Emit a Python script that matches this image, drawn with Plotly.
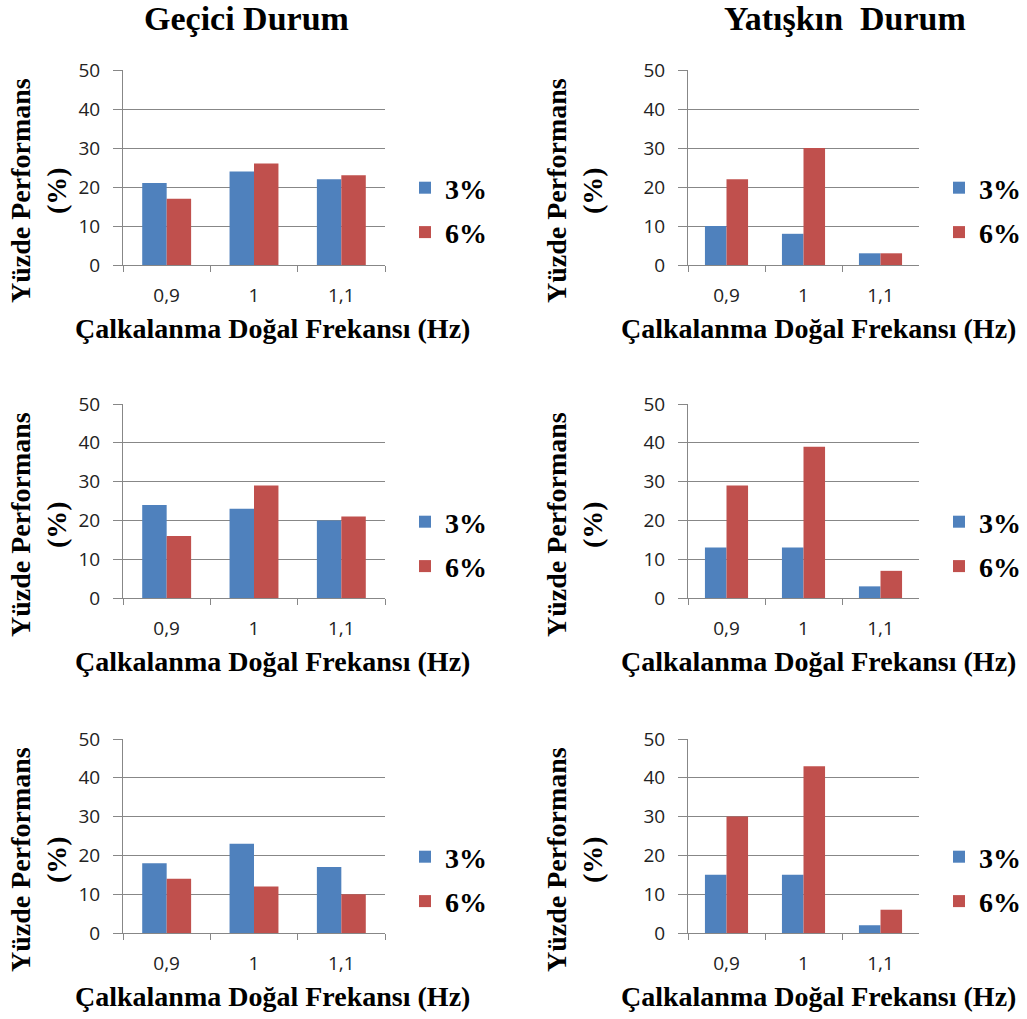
import plotly.graph_objects as go

# Natural sloshing frequency categories (Hz) and tick labels
categories = ["0,9", "1", "1,1"]
series_names = ["3%", "6%"]

# Percent performance, transient state (left column), rows top to bottom
gecici_3 = [[21, 24, 22], [24, 23, 20], [18, 23, 17]]
gecici_6 = [[17, 26, 23], [16, 29, 21], [14, 12, 10]]

# Percent performance, steady state (right column), rows top to bottom
yatiskin_3 = [[10, 8, 3], [13, 13, 3], [15, 15, 2]]
yatiskin_6 = [[22, 30, 3], [29, 39, 7], [30, 43, 6]]

y_ticks = [0, 10, 20, 30, 40, 50]
col_titles = ["Geçici Durum", "Yatışkın\u00a0\u00a0Durum"]
x_title = "Çalkalanma Doğal Frekansı (Hz)"
y_title = "Yüzde Performans<br>(%)"

BLUE = "#4F81BD"
RED = "#C0504D"
GRID = "#878787"
W, H = 1027, 1019

SERIF = "Liberation Serif, Times New Roman, serif"
SANS = "Open Sans"

# plot-area pixel boxes
col_x = [(123, 385), (688, 919)]
row_y = [(70, 265), (404, 598), (739, 933)]


def px_x(p):
    return p / W


def px_y(p):
    return 1 - p / H


fig = go.Figure()
layout = {}
annotations = []

for r in range(3):
    for c in range(2):
        i = r * 2 + c + 1
        sfx = "" if i == 1 else str(i)
        vals3 = gecici_3[r] if c == 0 else yatiskin_3[r]
        vals6 = gecici_6[r] if c == 0 else yatiskin_6[r]
        leg = "legend" if i == 1 else f"legend{i}"
        for name, vals, color in ((series_names[0], vals3, BLUE), (series_names[1], vals6, RED)):
            fig.add_trace(go.Bar(
                x=categories, y=vals, name=name,
                marker=dict(color=color, line=dict(width=0)),
                xaxis=f"x{sfx}", yaxis=f"y{sfx}",
                legend=leg, legendgroup=f"{i}-{name}",
            ))
        x0, x1 = col_x[c]
        y0, y1 = row_y[r]
        layout[f"xaxis{sfx}"] = dict(
            domain=[px_x(x0), px_x(x1)], anchor=f"y{sfx}", automargin=False,
            type="category", range=[-0.5, 2.5],
            showline=True, linecolor=GRID, linewidth=1,
            ticks="outside", tickson="boundaries", ticklen=6, tickcolor=GRID,
            showgrid=False, zeroline=False,
            tickfont=dict(family=SANS, size=19, color="#222"),
            ticklabelstandoff=13,
        )
        layout[f"yaxis{sfx}"] = dict(
            domain=[px_y(y1), px_y(y0)], anchor=f"x{sfx}", automargin=False,
            range=[0, 50], tickvals=y_ticks,
            showline=True, linecolor=GRID, linewidth=1,
            ticks="outside", ticklen=9, tickcolor=GRID,
            showgrid=True, gridcolor=GRID, gridwidth=1, zeroline=False,
            tickfont=dict(family=SANS, size=19, color="#222"),
            ticklabelstandoff=9,
        )
        layout[leg] = dict(
            x=px_x(x1 + 20), y=px_y(y0 + 93), xanchor="left", yanchor="top",
            font=dict(family=SERIF, size=28, color="black", weight="bold"),
            bgcolor="rgba(0,0,0,0)", tracegroupgap=5,
            itemclick=False, itemdoubleclick=False,
        )
        # axis titles
        xc = 272 if c == 0 else 818
        annotations.append(dict(
            text=x_title, x=px_x(xc), y=px_y(y1 + 63), xref="paper", yref="paper",
            xanchor="center", yanchor="middle", showarrow=False,
            font=dict(family=SERIF, size=28, color="black", weight="bold"),
        ))
        yc = 38 if c == 0 else 574
        annotations.append(dict(
            text=y_title, x=px_x(yc), y=px_y(y0 + 121), xref="paper", yref="paper",
            xanchor="center", yanchor="middle", showarrow=False, textangle=-90,
            font=dict(family=SERIF, size=28, color="black", weight="bold"),
        ))

# column titles
for c, t in enumerate(col_titles):
    annotations.append(dict(
        text=t, x=px_x(246 if c == 0 else 845), y=px_y(18), xref="paper", yref="paper",
        xanchor="center", yanchor="middle", showarrow=False,
        font=dict(family=SERIF, size=34, color="black", weight="bold"),
    ))

fig.update_layout(
    width=W, height=H, margin=dict(l=0, r=0, t=0, b=0, pad=0, autoexpand=False),
    paper_bgcolor="white", plot_bgcolor="white",
    barmode="group", bargap=0.44, bargroupgap=0,
    showlegend=True, annotations=annotations, **layout,
)

fig.write_html("out.html")
